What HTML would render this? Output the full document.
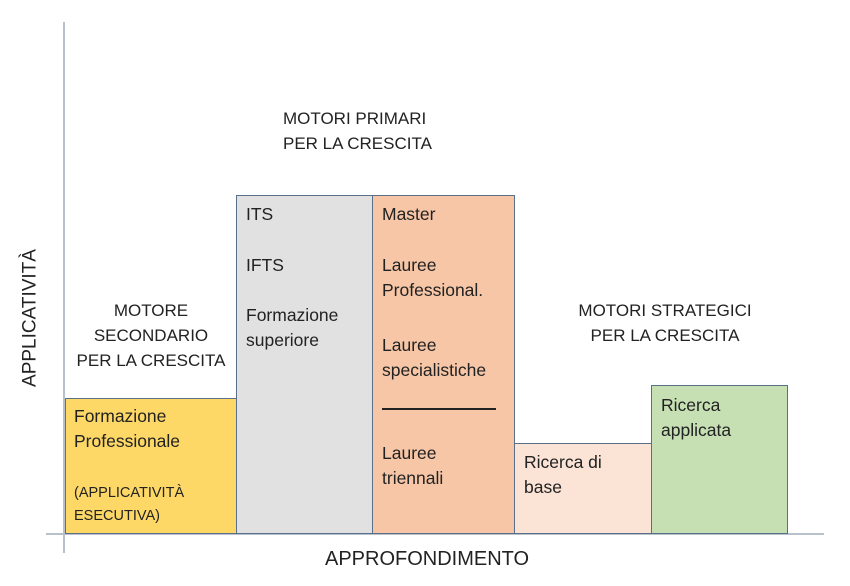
<!DOCTYPE html>
<html><head><meta charset="utf-8"><style>
body{margin:0;width:850px;height:586px;background:#fff;position:relative;overflow:hidden;font-family:"Liberation Sans",sans-serif;color:#222;}
.a{position:absolute;font-size:17px;line-height:25px;white-space:nowrap;}
.b{position:absolute;border:1.5px solid #5a6f8a;box-sizing:border-box;}
.t{position:absolute;font-size:17.5px;line-height:25px;white-space:nowrap;}
</style></head><body>
<div style="position:absolute;left:63px;top:22px;width:1.5px;height:531px;background:#b8c0cc"></div>
<div style="position:absolute;left:46px;top:533px;width:778px;height:1.5px;background:#b8c0cc"></div>

<div class="b" style="left:65px;top:398px;width:172px;height:136px;background:#fdd866"></div>
<div class="b" style="left:236px;top:195px;width:137px;height:339px;background:#e1e1e1"></div>
<div class="b" style="left:372px;top:195px;width:143px;height:339px;background:#f7c6a6"></div>
<div class="b" style="left:514px;top:443px;width:138px;height:91px;background:#fbe3d5"></div>
<div class="b" style="left:651px;top:385px;width:137px;height:149px;background:#c6e0b4"></div>

<div class="t" style="left:74px;top:404px">Formazione<br>Professionale</div>
<div class="t" style="left:74px;top:482px;font-size:14.5px;line-height:23px">(APPLICATIVITÀ<br>ESECUTIVA)</div>

<div class="t" style="left:246px;top:202px">ITS</div>
<div class="t" style="left:246px;top:253px">IFTS</div>
<div class="t" style="left:246px;top:303px">Formazione<br>superiore</div>

<div class="t" style="left:382px;top:202px">Master</div>
<div class="t" style="left:382px;top:253px">Lauree<br>Professional.</div>
<div class="t" style="left:382px;top:333px">Lauree<br>specialistiche</div>
<div style="position:absolute;left:382px;top:408px;width:114px;height:1.5px;background:#222"></div>
<div class="t" style="left:382px;top:441px">Lauree<br>triennali</div>

<div class="t" style="left:524px;top:450px">Ricerca di<br>base</div>
<div class="t" style="left:661px;top:393px">Ricerca<br>applicata</div>

<div class="a" style="left:65px;top:298px;width:172px;text-align:center">MOTORE<br>SECONDARIO<br>PER LA CRESCITA</div>
<div class="a" style="left:283px;top:106px">MOTORI PRIMARI<br>PER LA CRESCITA</div>
<div class="a" style="left:560px;top:298px;width:210px;text-align:center">MOTORI STRATEGICI<br>PER LA CRESCITA</div>
<div class="a" style="left:325px;top:547px;font-size:20px">APPROFONDIMENTO</div>
<div class="a" style="left:30px;top:318px;font-size:19px;transform:translate(-50%,-50%) rotate(-90deg)">APPLICATIVITÀ</div>
</body></html>
